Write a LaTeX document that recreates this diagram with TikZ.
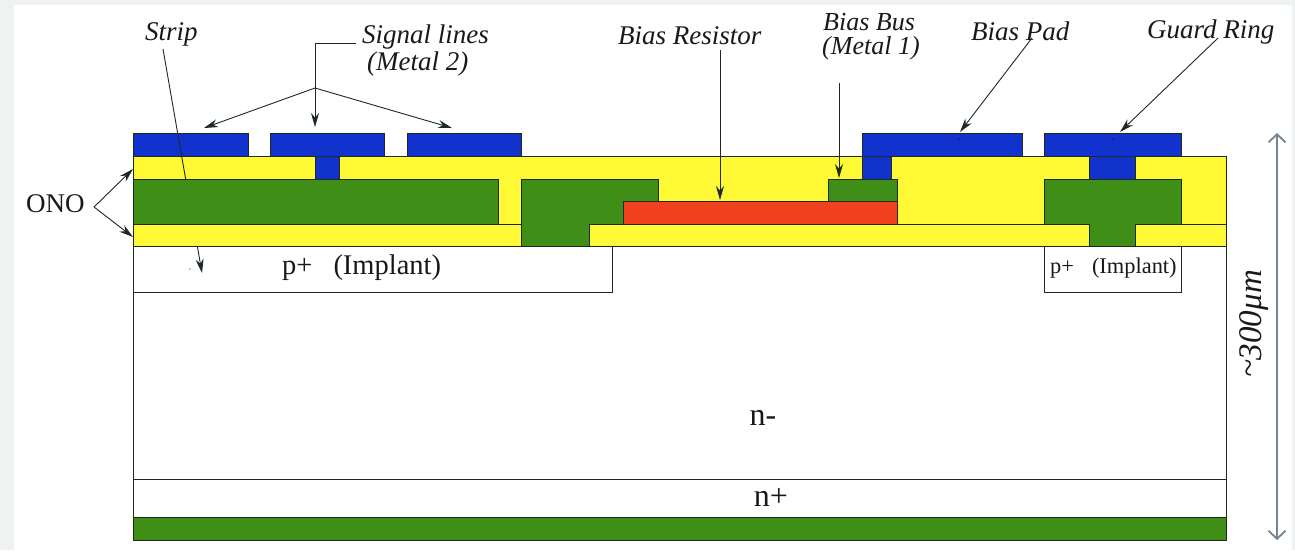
\documentclass[tikz,border=0pt]{standalone}
\usepackage{fontspec}
\setmainfont{Liberation Serif}
\usetikzlibrary{arrows.meta}
\definecolor{mblue}{HTML}{1232CE}
\definecolor{myellow}{HTML}{FFF935}
\definecolor{mgreen}{HTML}{3E8E17}
\definecolor{mred}{HTML}{F2411E}
\definecolor{mgray}{HTML}{748490}
\definecolor{mline}{HTML}{1E2A1E}
\definecolor{mback}{HTML}{EEF2F0}
\tikzset{
  layer/.style={draw=mline,line width=0.9pt,line join=miter},
  lead/.style={draw=mline,line width=0.9pt,-{Stealth[length=14pt,width=8pt]}},
  plainlead/.style={draw=mline,line width=0.9pt},
  lab/.style={font=\fontsize{27}{27}\selectfont\itshape,inner sep=0pt,text=black!90},
  buslab/.style={font=\fontsize{26}{26}\selectfont\itshape,inner sep=0pt,text=black!90},
  thicklab/.style={font=\fontsize{33}{33}\selectfont\itshape,inner sep=0pt,text=black!90},
  rlab/.style={font=\fontsize{27}{27}\selectfont,inner sep=0pt,text=black!90},
  mlab/.style={font=\fontsize{28.5}{28.5}\selectfont,inner sep=0pt,text=black!90},
  nlab/.style={font=\fontsize{32}{32}\selectfont,inner sep=0pt,text=black!90},
  slab/.style={font=\fontsize{22.4}{22.4}\selectfont,inner sep=0pt,text=black!90},
}
\begin{document}
\begin{tikzpicture}[x=1pt,y=-1pt]
\useasboundingbox (0,0) rectangle (1295,550);
\fill[mback] (0,0) rectangle (1295,550);
\fill[white] (14,5) rectangle (1292,550);
% top oxide and metal 2
\fill[myellow] (133,156) rectangle (1226,246);
\draw[layer,fill=mblue] (133,133) rectangle (248,156);
\draw[layer,fill=mblue] (270,133) rectangle (384,156);
\draw[layer,fill=mblue] (407,133) rectangle (521,156);
\draw[layer,fill=mblue] (315,156) rectangle (339,179);
\draw[layer,fill=mblue] (862,156) -- (862,133) -- (1022,133) -- (1022,156) -- (891,156) -- (891,179) -- (862,179) -- cycle;
\draw[layer,fill=mblue] (1044,133) rectangle (1181,156);
\draw[layer,fill=mblue] (1089,156) rectangle (1135,179);
\draw[layer] (133,156) rectangle (1226,246);
% substrate
\draw[layer,fill=white] (133,246) rectangle (1226,479);
\draw[layer,fill=white] (133,479) rectangle (1226,517);
\draw[layer,fill=mgreen] (133,517) rectangle (1226,540);
\draw[layer,fill=white] (133,246) rectangle (612,292);
\draw[layer,fill=white] (1044,246) rectangle (1181,292);
% labels
\node[lab,anchor=west] (strip) at (145,34) {Strip};
\node[lab,anchor=west] (signal) at (362,37) {Signal lines};
\node[lab,anchor=west] (metal2) at (367,64) {(Metal 2)};
\node[lab,anchor=west] (resistor) at (618,36) {Bias Resistor};
\node[buslab,anchor=west] (bus) at (823,22) {Bias Bus};
\node[buslab,anchor=west] (metal1) at (822,48) {(Metal 1)};
\node[lab,anchor=west] (pad) at (971,31) {Bias Pad};
\node[lab,anchor=west] (guard) at (1147,32) {Guard Ring};
\node[rlab,anchor=west] (ono) at (26,204) {ONO};
\node[mlab,anchor=west] (implantA) at (282,268) {p+\hspace{21pt}(Implant)};
\node[slab,anchor=west] (implantB) at (1050,268) {p+\hspace{18pt}(Implant)};
\node[nlab] (nminus) at (763,418) {n-};
\node[nlab] (nplus) at (771,497) {n+};
\node[thicklab,rotate=90] (thick) at (1254,324) {\raisebox{2pt}{\~{}}300μm};
% leader coordinates
\coordinate (stripS) at (163,49);
\coordinate (stripE) at (202,273);
\coordinate (sigS) at (356,43);
\coordinate (sigK) at (315,43);
\coordinate (sigJ) at (315,88);
\coordinate (sigA) at (204,128);
\coordinate (sigB) at (315,127);
\coordinate (sigC) at (452,128);
\coordinate (onoJ) at (94,207);
\coordinate (onoA) at (133,169);
\coordinate (onoB) at (133,237);
\coordinate (resS) at (720,50);
\coordinate (resE) at (720,200);
\coordinate (busS) at (839,83);
\coordinate (busE) at (839,178);
\coordinate (padS) at (1032,38);
\coordinate (padE) at (960,132);
\coordinate (guardS) at (1218,38);
\coordinate (guardE) at (1120,132);
\coordinate (dimT) at (1277,133);
\coordinate (dimB) at (1277,540);
% strip leader runs behind the poly and lower oxide
\draw[lead] (stripS) -- (stripE);
\fill[black] (190,269) circle (0.7pt) (959,139) circle (0.7pt) (1113,139) circle (0.7pt);
% poly, resistor, lower oxide
\draw[layer,fill=myellow] (133,224) rectangle (1226,246);
\draw[layer,fill=mgreen] (133,179) rectangle (498,224);
\draw[layer,fill=mgreen] (521,246) -- (521,179) -- (658,179) -- (658,201) -- (623,201) -- (623,224) -- (589,224) -- (589,246) -- cycle;
\draw[layer,fill=mgreen] (828,201) -- (828,179) -- (897,179) -- (897,201) -- cycle;
\draw[layer,fill=mred] (623,201) rectangle (897,224);
\draw[layer,fill=mgreen] (1044,224) -- (1044,179) -- (1181,179) -- (1181,224) -- (1135,224) -- (1135,246) -- (1089,246) -- (1089,224) -- cycle;
\draw[layer] (133,156) rectangle (1226,246);
% leaders
\draw[plainlead] (sigS) -- (sigK) -- (sigJ);
\draw[lead] (sigJ) -- (sigA);
\draw[lead] (sigJ) -- (sigB);
\draw[lead] (sigJ) -- (sigC);
\draw[lead] (onoJ) -- (onoA);
\draw[lead] (onoJ) -- (onoB);
\draw[lead] (resS) -- (resE);
\draw[lead] (busS) -- (busE);
\draw[lead] (padS) -- (padE);
\draw[lead] (guardS) -- (guardE);
\draw[mgray,line width=1.8pt,{Straight Barb[length=8pt,width=17pt]}-{Straight Barb[length=8pt,width=17pt]}] (dimT) -- (dimB);
\end{tikzpicture}
\end{document}
